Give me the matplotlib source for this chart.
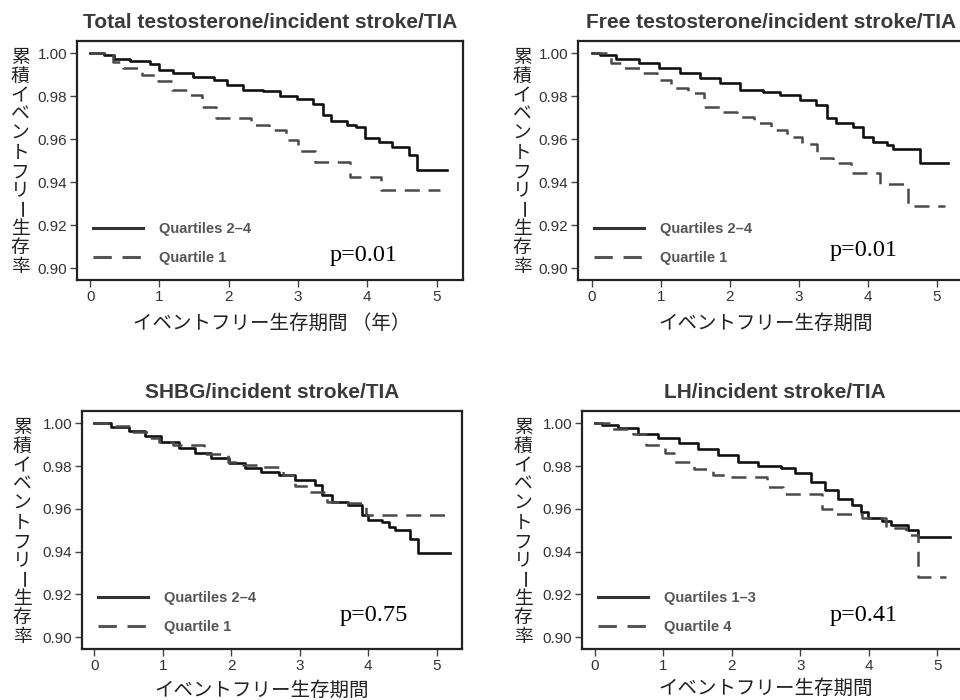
import matplotlib.pyplot as plt
from matplotlib.lines import Line2D
from matplotlib.ticker import FormatStrFormatter

# ------------- data -------------
titles = ["Total testosterone/incident stroke/TIA",
          "Free testosterone/incident stroke/TIA",
          "SHBG/incident stroke/TIA",
          "LH/incident stroke/TIA"]
solid_labels = ["Quartiles 2\u20134", "Quartiles 2\u20134", "Quartiles 2\u20134", "Quartiles 1\u20133"]
dashed_labels = ["Quartile 1", "Quartile 1", "Quartile 1", "Quartile 4"]
p_values = ["p=0.01", "p=0.01", "p=0.75", "p=0.41"]
x_titles = ["イベントフリー生存期間 （年）", "イベントフリー生存期間",
            "イベントフリー生存期間", "イベントフリー生存期間"]
y_title = "累積イベントフリー生存率"
x_ticks = [0, 1, 2, 3, 4, 5]
y_ticks = [0.90, 0.92, 0.94, 0.96, 0.98, 1.00]

# total testosterone
t1_solid = [0, 0.2, 0.35, 0.58, 0.87, 1.0, 1.2, 1.49, 1.78, 1.97, 2.21, 2.5, 2.74, 2.98,
            3.22, 3.36, 3.48, 3.7, 3.84, 3.96, 4.17, 4.36, 4.6, 4.72, 5.15]
s1_solid = [1.0, 0.9992, 0.9973, 0.9964, 0.9949, 0.9922, 0.9907, 0.9891, 0.9876, 0.9853,
            0.983, 0.9825, 0.9803, 0.9787, 0.9763, 0.9713, 0.9685, 0.9667, 0.9659, 0.9605,
            0.9589, 0.9566, 0.9527, 0.9457, 0.9457]
t1_dash = [0, 0.33, 0.48, 0.75, 0.98, 1.18, 1.4, 1.62, 1.82, 2.32, 2.58, 2.82, 3.0, 3.25,
           3.75, 4.2, 5.05]
s1_dash = [1.0, 0.9961, 0.9932, 0.990, 0.9871, 0.983, 0.9806, 0.975, 0.970, 0.9667, 0.9643,
           0.9597, 0.9545, 0.9496, 0.9425, 0.9364, 0.9364]

# free testosterone
t2_solid = [0, 0.12, 0.35, 0.69, 0.98, 1.27, 1.56, 1.85, 2.14, 2.48, 2.72, 3.01, 3.25, 3.4,
            3.54, 3.78, 3.93, 4.07, 4.27, 4.36, 4.75, 5.16]
s2_solid = [1.0, 0.999, 0.9973, 0.9953, 0.9933, 0.9907, 0.9884, 0.986, 0.9829, 0.9819,
            0.9806, 0.9783, 0.976, 0.9698, 0.9674, 0.9659, 0.9612, 0.9589, 0.9573, 0.9555,
            0.9488, 0.9488]
t2_dash = [0, 0.28, 0.45, 0.7, 0.95, 1.15, 1.4, 1.62, 1.85, 2.1, 2.35, 2.6, 2.82, 3.04,
           3.26, 3.5, 3.76, 4.17, 4.58, 5.11]
s2_dash = [1.0, 0.9953, 0.993, 0.9907, 0.9876, 0.9837, 0.9814, 0.9752, 0.9728, 0.9705,
           0.9674, 0.9643, 0.9612, 0.9577, 0.9512, 0.9488, 0.9445, 0.939, 0.9287, 0.9287]

# SHBG
t3_solid = [0, 0.25, 0.5, 0.74, 0.98, 1.23, 1.47, 1.71, 1.96, 2.2, 2.44, 2.69, 2.93, 3.22,
            3.32, 3.47, 3.71, 3.91, 4.0, 4.2, 4.3, 4.39, 4.61, 4.73, 5.2]
s3_solid = [1.0, 0.9984, 0.9964, 0.9942, 0.9914, 0.9883, 0.9859, 0.9836, 0.9812, 0.9789,
            0.9773, 0.9758, 0.9734, 0.9711, 0.9664, 0.9632, 0.9617, 0.957, 0.9547, 0.9539,
            0.9515, 0.95, 0.9461, 0.9395, 0.9395]
t3_dash = [0, 0.3, 0.55, 0.79, 0.94, 1.15, 1.6, 1.95, 2.15, 2.42, 2.75, 2.93, 3.15, 3.4,
           3.65, 3.97, 5.22]
s3_dash = [1.0, 0.9985, 0.996, 0.9933, 0.991, 0.9898, 0.9855, 0.982, 0.9805, 0.9797,
           0.9758, 0.9708, 0.968, 0.9632, 0.9625, 0.957, 0.957]

# LH
t4_solid = [0, 0.1, 0.34, 0.63, 0.92, 1.22, 1.51, 1.8, 2.09, 2.38, 2.72, 2.92, 3.16, 3.36,
            3.55, 3.75, 3.89, 3.99, 4.19, 4.33, 4.58, 4.72, 5.18]
s4_solid = [1.0, 0.9992, 0.9978, 0.9951, 0.9931, 0.9909, 0.9881, 0.9851, 0.9817, 0.9801,
            0.9789, 0.9766, 0.9726, 0.9687, 0.9648, 0.9617, 0.9586, 0.9555, 0.9542, 0.9523,
            0.95, 0.9468, 0.9468]
t4_dash = [0, 0.24, 0.55, 0.75, 1.02, 1.15, 1.45, 1.72, 2.0, 2.52, 2.75, 3.32, 3.52, 3.9,
           4.25, 4.55, 4.72, 5.13]
s4_dash = [1.0, 0.9972, 0.9951, 0.9898, 0.9859, 0.982, 0.9786, 0.9758, 0.975, 0.9701,
           0.9667, 0.9601, 0.9578, 0.9555, 0.951, 0.9476, 0.928, 0.928]

curves = [(t1_solid, s1_solid, t1_dash, s1_dash),
          (t2_solid, s2_solid, t2_dash, s2_dash),
          (t3_solid, s3_solid, t3_dash, s3_dash),
          (t4_solid, s4_solid, t4_dash, s4_dash)]

# ------------- layout (pixels of the 960x700 picture) -------------
W, H = 960, 700
SANS = "Liberation Sans"
SERIF = "Liberation Serif"
JP = ["Noto Sans CJK JP", "DejaVu Sans"]

# left, top, right, bottom of each plot box
boxes = [(77, 41, 463, 280), (578, 41, 964, 280), (82, 411, 462, 649), (582, 411, 968, 649)]
xlims = [(-0.19, 5.38), (-0.2, 5.39), (-0.18, 5.37), (-0.19, 5.45)]
ylab_pos = [(20, 48), (522, 48), (22, 418), (523, 418)]   # vertical label x, top
xlab_pos = [(272, 323), (766, 323), (262, 690), (766, 688)]
p_pos = [(330, 255), (830, 250), (340, 615), (830, 615)]

fig = plt.figure(figsize=(W / 100, H / 100), dpi=100)

for i in range(4):
    l, t, r, b = boxes[i]
    ax = fig.add_axes([l / W, 1 - b / H, (r - l) / W, (b - t) / H])
    ts, ss, td, sd = curves[i]
    ax.plot(ts, ss, drawstyle="steps-post", color="#111111", lw=1.9)
    ax.plot(td, sd, drawstyle="steps-post", color="#4a4a4a", lw=1.8, dashes=(6, 3.5))

    ax.set_xlim(*xlims[i])
    ax.set_ylim(0.8945, 1.0057)
    ax.set_xticks(x_ticks)
    ax.set_yticks(y_ticks)
    ax.yaxis.set_major_formatter(FormatStrFormatter("%.2f"))
    for sp in ax.spines.values():
        sp.set_linewidth(1.6)
        sp.set_color("#222222")
    ax.tick_params(direction="out", length=5, width=1, color="#444444",
                   labelsize=11, labelcolor="#333333", pad=2)
    for lab in ax.get_xticklabels() + ax.get_yticklabels():
        lab.set_family(SANS)

    ax.set_title(titles[i], fontsize=15, fontweight="bold", color="#3a3a3a",
                 family=SANS, pad=9)

    handles = [Line2D([], [], color="#333333", lw=2.2),
               Line2D([], [], color="#555555", lw=2.2, dashes=(6, 3.5))]
    ax.legend(handles, [solid_labels[i], dashed_labels[i]], loc="lower left",
              bbox_to_anchor=(16 / (r - l), 15 / (b - t)), frameon=False,
              prop={"family": SANS, "size": 10.5, "weight": "bold"}, labelcolor="#555555",
              handlelength=3.4, handletextpad=1.1, labelspacing=1.0,
              borderaxespad=0, borderpad=0)

    px, py = p_pos[i]
    fig.text(px / W, 1 - py / H, p_values[i], fontsize=17.5, family=SERIF,
             ha="left", va="center", color="black")

    # x label
    xx, xy = xlab_pos[i]
    fig.text(xx / W, 1 - xy / H, x_titles[i], fontsize=14, family=JP,
             ha="center", va="center", color="#222222")

    # y label written top to bottom, one character per line
    yx, ytop = ylab_pos[i]
    for k, ch in enumerate(y_title):
        yy = ytop + (k + 0.5) * 19
        fig.text(yx / W, 1 - yy / H, ch, fontsize=13.5, family=JP,
                 rotation=-90 if ch == "ー" else 0,
                 ha="center", va="center", color="#222222")

plt.savefig("out.png", dpi=100)
